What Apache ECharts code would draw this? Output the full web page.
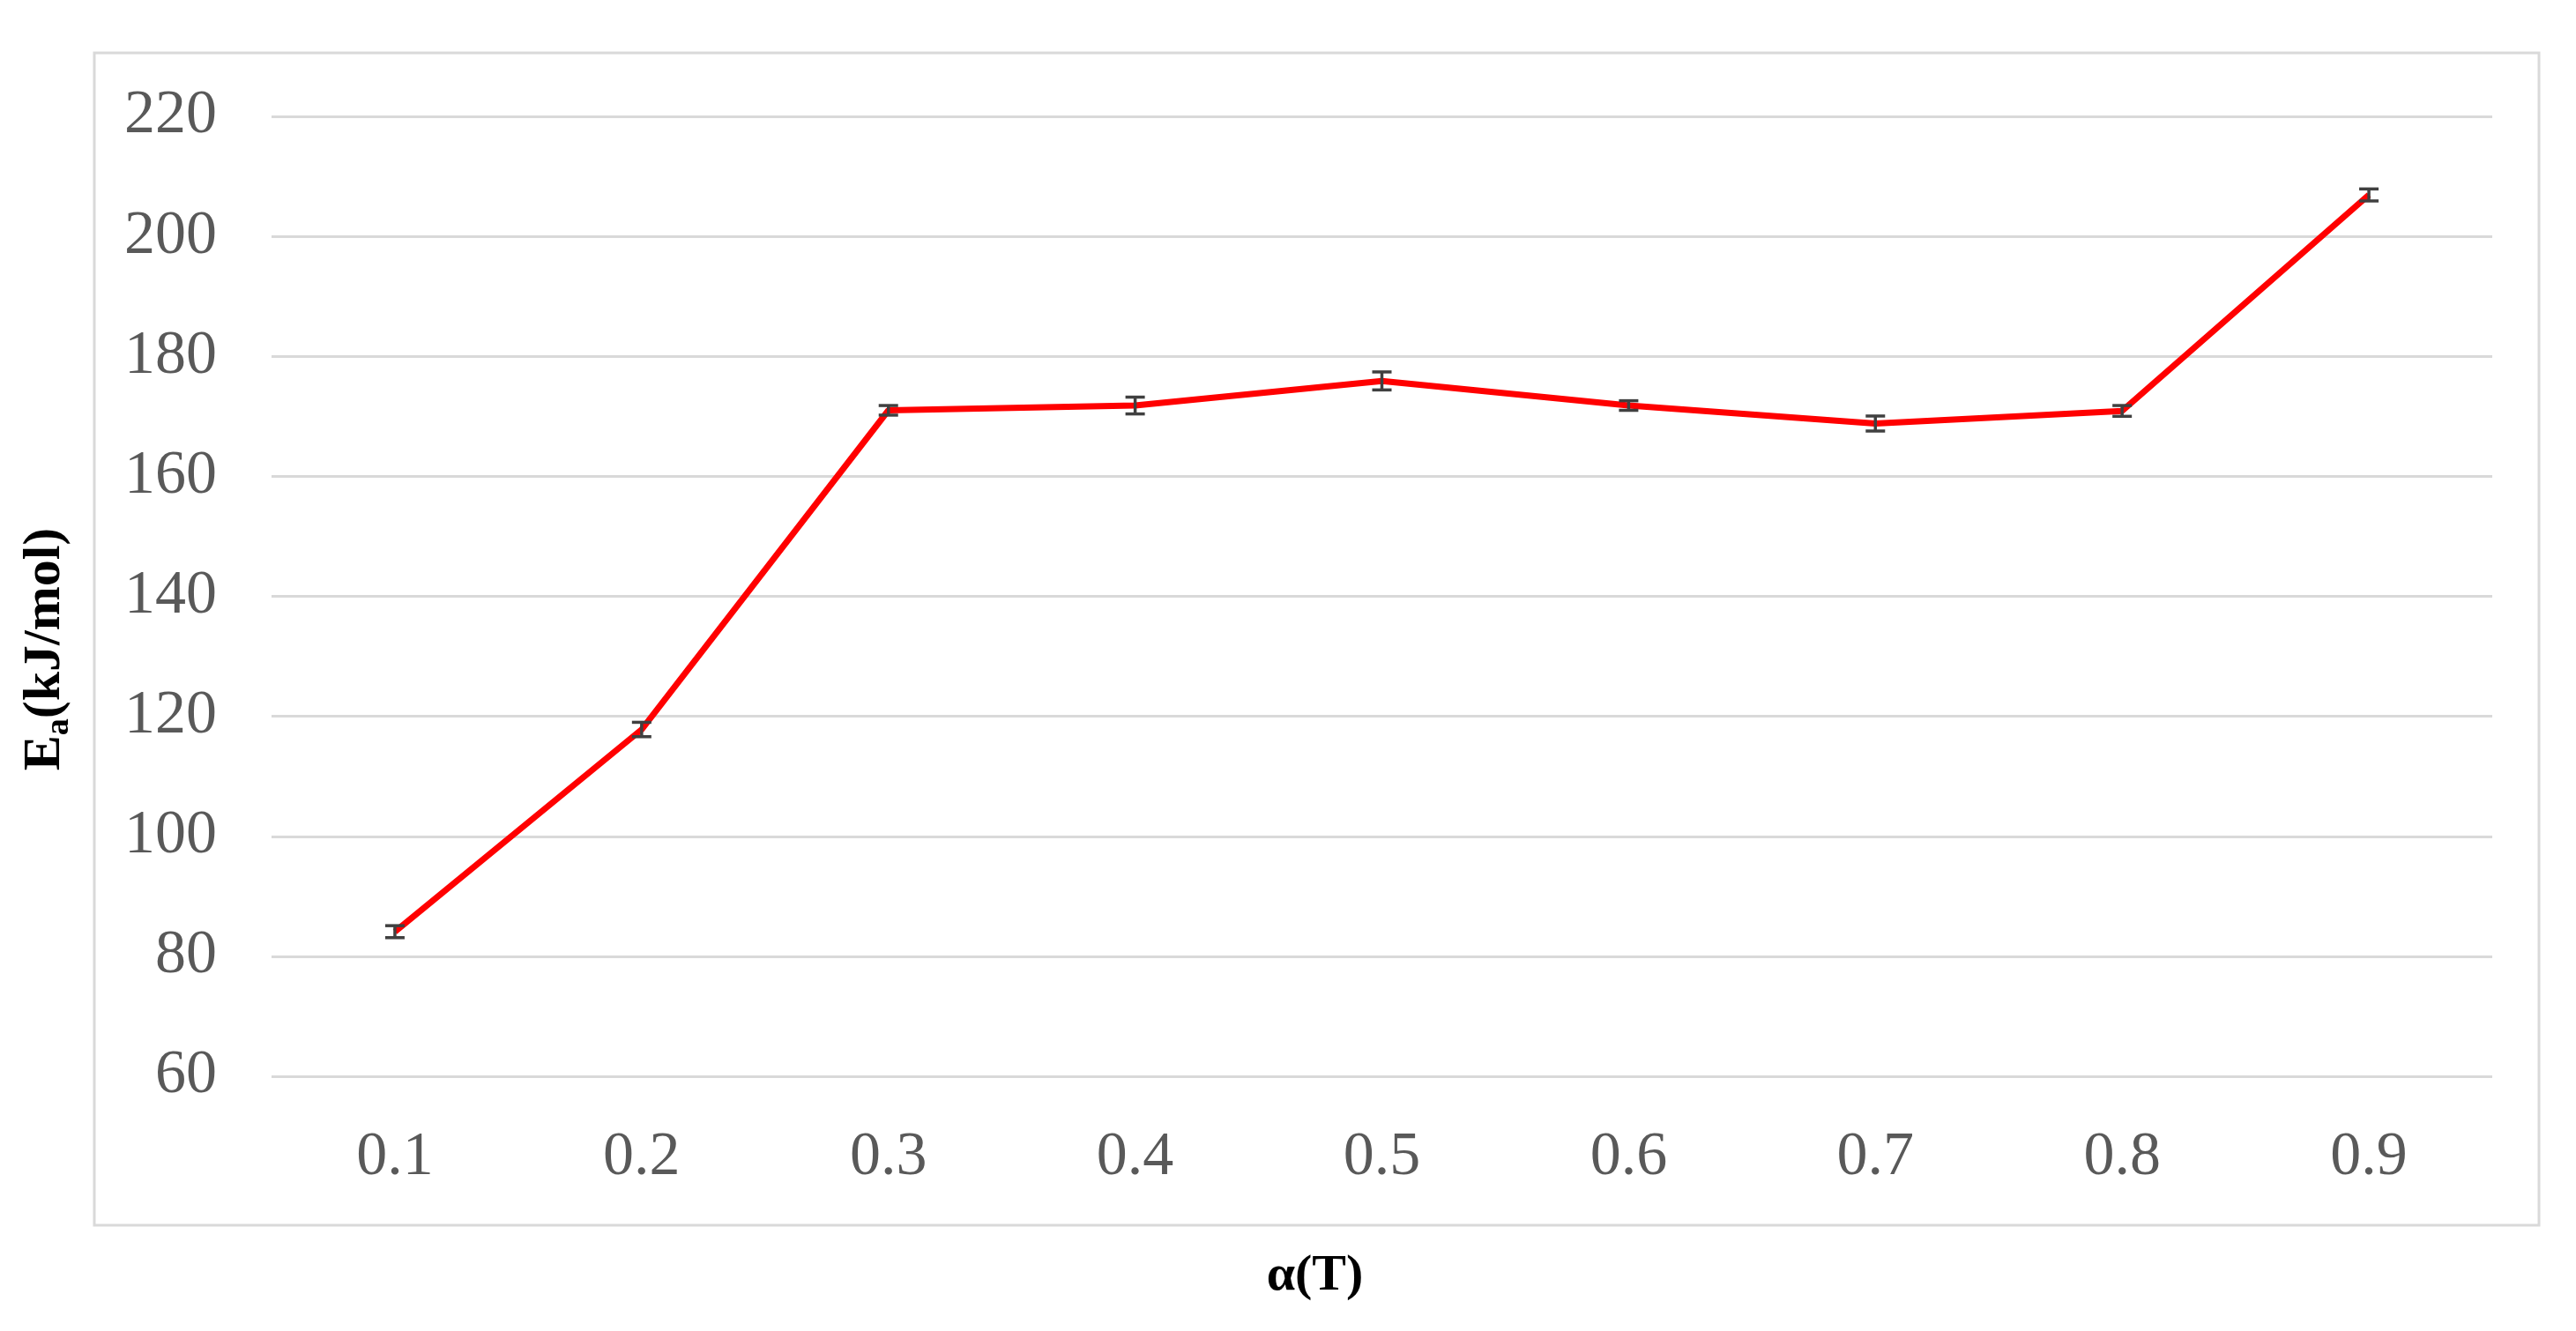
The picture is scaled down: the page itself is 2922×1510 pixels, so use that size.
<!DOCTYPE html>
<html>
<head>
<meta charset="utf-8">
<script src="https://cdn.jsdelivr.net/npm/echarts@6/dist/echarts.min.js"></script>
<style>
html,body{margin:0;padding:0;background:#fff;}
#c{width:2922px;height:1510px;}
</style>
</head>
<body>
<div id="c"></div>
<script>
const categories = ['0.1','0.2','0.3','0.4','0.5','0.6','0.7','0.8','0.9'];
const eaValues = [84.1, 117.8, 171.0, 171.8, 175.9, 171.8, 168.8, 170.9, 206.9];
const eaErrors = [1.0, 1.2, 0.8, 1.4, 1.5, 0.8, 1.25, 0.9, 1.0];
const yTicks = [60, 80, 100, 120, 140, 160, 180, 200, 220];

const chart = echarts.init(document.getElementById('c'));
const errData = categories.map((c, i) => [i, eaValues[i] - eaErrors[i], eaValues[i] + eaErrors[i]]);

chart.setOption({
  backgroundColor: '#ffffff',
  animation: false,
  graphic: [{
    type: 'rect',
    shape: {x: 107, y: 60, width: 2773, height: 1330},
    style: {fill: null, stroke: '#d9d9d9', lineWidth: 3},
    silent: true, z: -1
  }],
  grid: {left: 308, right: 95, top: 132, bottom: 289, containLabel: false},
  xAxis: {
    type: 'category',
    data: categories,
    boundaryGap: true,
    axisLine: {show: false},
    axisTick: {show: false},
    axisLabel: {
      margin: 58,
      fontFamily: 'Liberation Serif',
      fontSize: 70,
      color: '#595959'
    },
    name: 'α(T)',
    nameLocation: 'middle',
    nameGap: 198,
    nameTextStyle: {
      fontFamily: 'Liberation Serif',
      fontWeight: 'bold',
      fontSize: 58,
      color: '#000000',
      padding: [0, 152, 0, 0]
    }
  },
  yAxis: {
    type: 'value',
    min: yTicks[0],
    max: yTicks[yTicks.length - 1],
    interval: 20,
    axisLine: {show: false},
    axisTick: {show: false},
    splitLine: {lineStyle: {color: '#d9d9d9', width: 3}},
    axisLabel: {
      margin: 62,
      fontFamily: 'Liberation Serif',
      fontSize: 70,
      color: '#595959'
    },
    name: '{b|E}{s|a}{b|(kJ/mol)}',
    nameLocation: 'middle',
    nameRotate: 90,
    nameGap: 222,
    nameTextStyle: {
      padding: [0, 120, 0, 0],
      rich: {
        b: {fontFamily: 'Liberation Serif', fontWeight: 'bold', fontSize: 60, color: '#000', lineHeight: 70},
        s: {fontFamily: 'Liberation Serif', fontWeight: 'bold', fontSize: 38, color: '#000', verticalAlign: 'bottom', lineHeight: 38}
      }
    }
  },
  series: [
    {
      type: 'line',
      data: eaValues,
      symbol: 'none',
      lineStyle: {color: '#ff0000', width: 7},
      z: 2
    },
    {
      type: 'custom',
      data: errData,
      z: 3,
      renderItem: function (params, api) {
        const x = api.value(0);
        const lo = api.coord([x, api.value(1)]);
        const hi = api.coord([x, api.value(2)]);
        const hw = 11;
        const st = {stroke: '#404040', lineWidth: 3.5};
        return {
          type: 'group',
          children: [
            {type: 'line', shape: {x1: lo[0], y1: lo[1], x2: hi[0], y2: hi[1]}, style: st},
            {type: 'line', shape: {x1: lo[0] - hw, y1: lo[1], x2: lo[0] + hw, y2: lo[1]}, style: st},
            {type: 'line', shape: {x1: hi[0] - hw, y1: hi[1], x2: hi[0] + hw, y2: hi[1]}, style: st}
          ]
        };
      }
    }
  ]
});
</script>
</body>
</html>
